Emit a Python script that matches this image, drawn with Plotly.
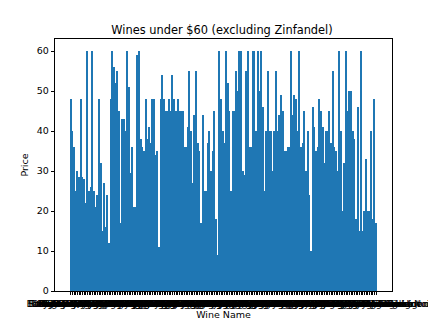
import plotly.graph_objects as go

# prices, left to right
prices = [
    48, 40, 36, 25, 30, 28.6, 48, 28.6, 28, 22, 60, 25, 26, 60, 25, 21, 24, 48, 32, 15,
    27, 16, 24, 12, 48, 60, 56, 52, 55, 45, 17, 43, 43, 40, 60, 51, 29.5, 36, 21, 21,
    59, 60, 38, 36,
    35, 48, 38, 41, 37, 48, 48, 34, 35, 11, 48, 54, 48, 45, 45, 48, 45, 54, 48, 45,
    48, 45, 45, 45, 36, 36, 41, 55, 40, 27, 44, 55, 37, 35, 17, 44, 25, 25, 37, 40,
    30, 35, 45, 18, 9, 60, 48,
    40, 37, 60, 52, 45, 25, 45, 45, 55, 50, 60, 60, 30, 29, 55, 60, 36, 36, 60, 60,
    40, 60, 50, 60, 46, 25, 40, 55, 40, 40, 30, 40, 55, 40, 44, 49, 45, 35, 35, 36,
    36, 60, 44, 49, 48, 40, 60, 36,
    37, 45, 30, 40, 24, 10, 46, 41, 35, 36, 48, 45, 41, 32, 40, 40, 45, 37, 55, 36,
    35, 30, 60, 40, 20, 32, 60, 45, 50, 50, 40, 38, 18, 46, 15, 60, 15, 20, 33, 20,
    20, 40, 18, 48, 17,
]

producers = ['Rosenblum Cellars', 'Ridge', 'Seghesio', 'Ravenswood', 'Turley', 'Bogle',
             'Dry Creek', 'Carlisle', 'Quivira', 'Mauritson', 'Rafanelli', 'Hartford',
             'Storybook Mountain', 'Easton', 'Bedrock', 'Unti', 'Preston', 'Folk Vineyards']
varietals = ['Petite Sirah', 'Syrah', 'Cabernet Sauvignon', 'Merlot', 'Grenache',
             'Mourvedre', 'Carignane', 'Sangiovese', 'Barbera', 'Pinot Noir', 'Red Blend']

wine_names = []
for i in range(len(prices)):
    wine_names.append(producers[i % len(producers)] + ' ' + varietals[i % len(varietals)])
wine_names[-1] = 'Folk Vineyards Red Blend'

font = 'DejaVu Sans'
n = len(prices)
span = n - 0.2

# the page body adds an 8px margin, so the figure is 8px smaller and shifted
W, H = 428, 319

fig = go.Figure()
fig.add_trace(go.Bar(x=list(range(n)), y=prices, marker_color='#1f77b4',
                     marker_line_width=0, width=0.8))

fig.update_layout(
    width=W, height=H, autosize=False,
    paper_bgcolor='white', plot_bgcolor='white',
    margin=dict(l=46.5, r=43.6, t=31.2, b=36),
    font=dict(family=font, size=9.5, color='black'),
    title=dict(text='Wines under $60 (excluding Zinfandel)', x=0.5, xanchor='center',
               y=1 - 22 / H, yanchor='middle', font=dict(size=11.4, color='black')),
    showlegend=False,
    bargap=0,
)
fig.update_xaxes(
    range=[-0.4 - 0.05 * span, n - 0.6 + 0.05 * span], automargin=False,
    tickmode='array', tickvals=list(range(n)), ticktext=wine_names, tickangle=0,
    ticks='outside', ticklen=3.3, tickcolor='black', tickwidth=0.8,
    showline=True, linecolor='black', linewidth=0.8, mirror=True,
    showgrid=False, zeroline=False,
    title=dict(text='Wine Name', standoff=0, font=dict(size=9.5)),
)
fig.update_yaxes(
    range=[0, 63], automargin=False, tickmode='array', tickvals=[0, 10, 20, 30, 40, 50, 60],
    ticks='outside', ticklen=3.3, tickcolor='black', tickwidth=0.8,
    showline=True, linecolor='black', linewidth=0.8, mirror=True,
    showgrid=False, zeroline=False,
    title=dict(text='Price', standoff=6, font=dict(size=9.5)),
)

fig.write_html('out.html')
